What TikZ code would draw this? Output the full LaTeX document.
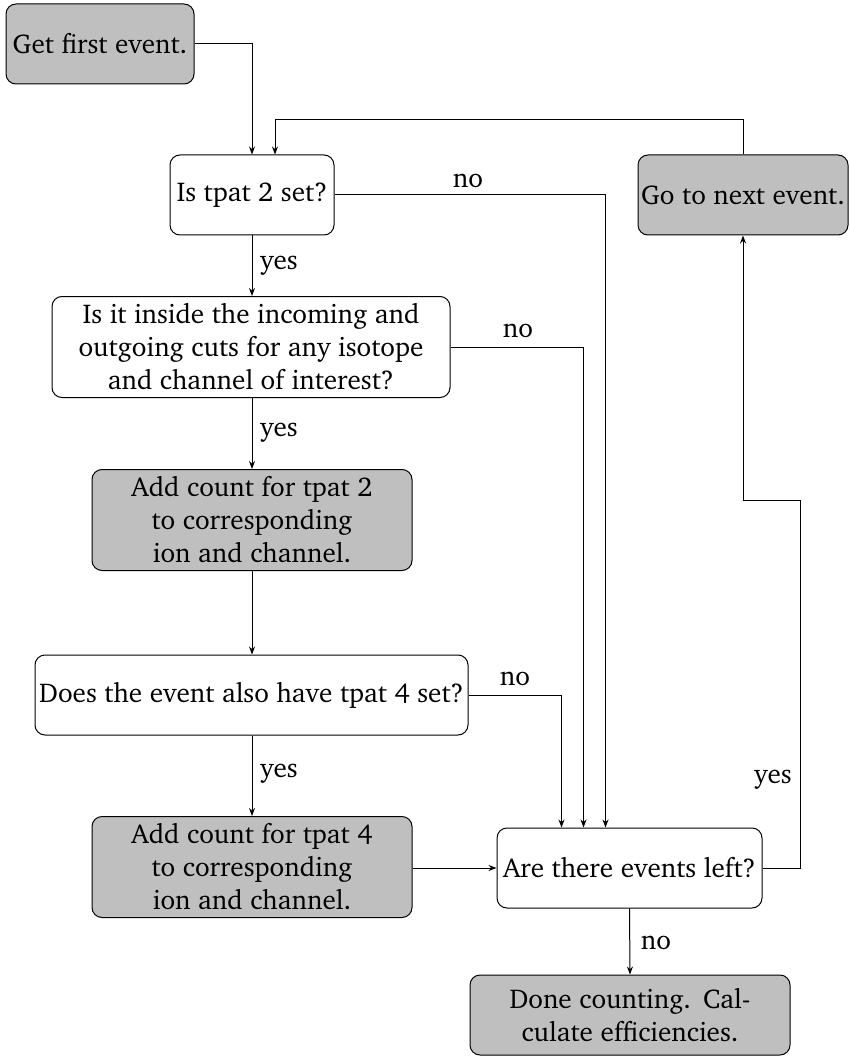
\documentclass[tikz,border=0pt]{standalone}
\usepackage[T1]{fontenc}
\usepackage{charter}
\usetikzlibrary{arrows.meta,calc}
\begin{document}
\begin{tikzpicture}[x=0.5pt,y=-0.5pt,
  box/.style={draw, line width=0.5pt, rounded corners=5pt, align=center, inner sep=0pt, font=\fontsize{13.6}{16.5}\selectfont},
  graybox/.style={box, fill=black!25},
  lab/.style={font=\fontsize{13.6}{16.5}\selectfont, inner sep=0pt},
  arr/.style={line width=0.5pt, -{Stealth[length=4pt,width=3pt]}}]
\useasboundingbox (0,0) rectangle (850,1059);
\node[graybox, minimum width=94pt, minimum height=40pt] (get) at (100,44) {Get first event.};
\node[box, minimum width=82pt, minimum height=40pt] (is2) at (252,195) {Is tpat 2 set?};
\node[graybox, minimum width=105pt, minimum height=40pt] (next) at (743,195) {Go to next event.};
\node[box, minimum width=199pt, minimum height=50.5pt] (cuts) at (251,347) {Is it inside the incoming and\\outgoing cuts for any isotope\\and channel of interest?};
\node[graybox, minimum width=160pt, minimum height=50.5pt] (add2) at (252,520) {Add count for tpat 2\\to corresponding\\ion and channel.};
\node[box, minimum width=216.5pt, minimum height=40pt] (has4) at (251.5,695) {Does the event also have tpat 4 set?};
\node[graybox, minimum width=160pt, minimum height=50.5pt] (add4) at (252,867) {Add count for tpat 4\\to corresponding\\ion and channel.};
\node[box, minimum width=132.5pt, minimum height=40pt] (left) at (629.5,868) {Are there events left?};
\node[graybox, minimum width=160pt, minimum height=40pt] (done) at (630,1015) {Done counting.\ \,Cal-\\culate efficiencies.};
\coordinate (yc) at (800,500);
% connectors
\draw[arr] (get.east) -| (is2.north);
\draw[arr] (next.north) -- ++(0,-35) -| ($(is2.north)+(23,0)$);
\draw[arr] (is2.east) -| ($(left.north)+(-24,0)$);
\draw[arr] (cuts.east) -| ($(left.north)+(-46,0)$);
\draw[arr] (has4.east) -| ($(left.north)+(-68,0)$);
\draw[arr] (is2.south) -- (is2.south |- cuts.north);
\draw[arr] (is2.south |- cuts.south) -- (is2.south |- add2.north);
\draw[arr] (add2.south) -- (add2.south |- has4.north);
\draw[arr] (add2.south |- has4.south) -- (add4.north);
\draw[arr] (add4.east |- left.west) -- (left.west);
\draw[arr] (left.east) -| (yc) -| (next.south);
\draw[arr] (left.south) -- (done.north);
% labels
\node[lab] (l1) at (468,181) {no};
\node[lab] (l2) at (518,331) {no};
\node[lab] (l3) at (515,679) {no};
\node[lab] (l4) at (279,266) {yes};
\node[lab] (l5) at (279,433) {yes};
\node[lab] (l6) at (279,774) {yes};
\node[lab] (l7) at (773,780) {yes};
\node[lab] (l8) at (656,943) {no};
\end{tikzpicture}
\end{document}
